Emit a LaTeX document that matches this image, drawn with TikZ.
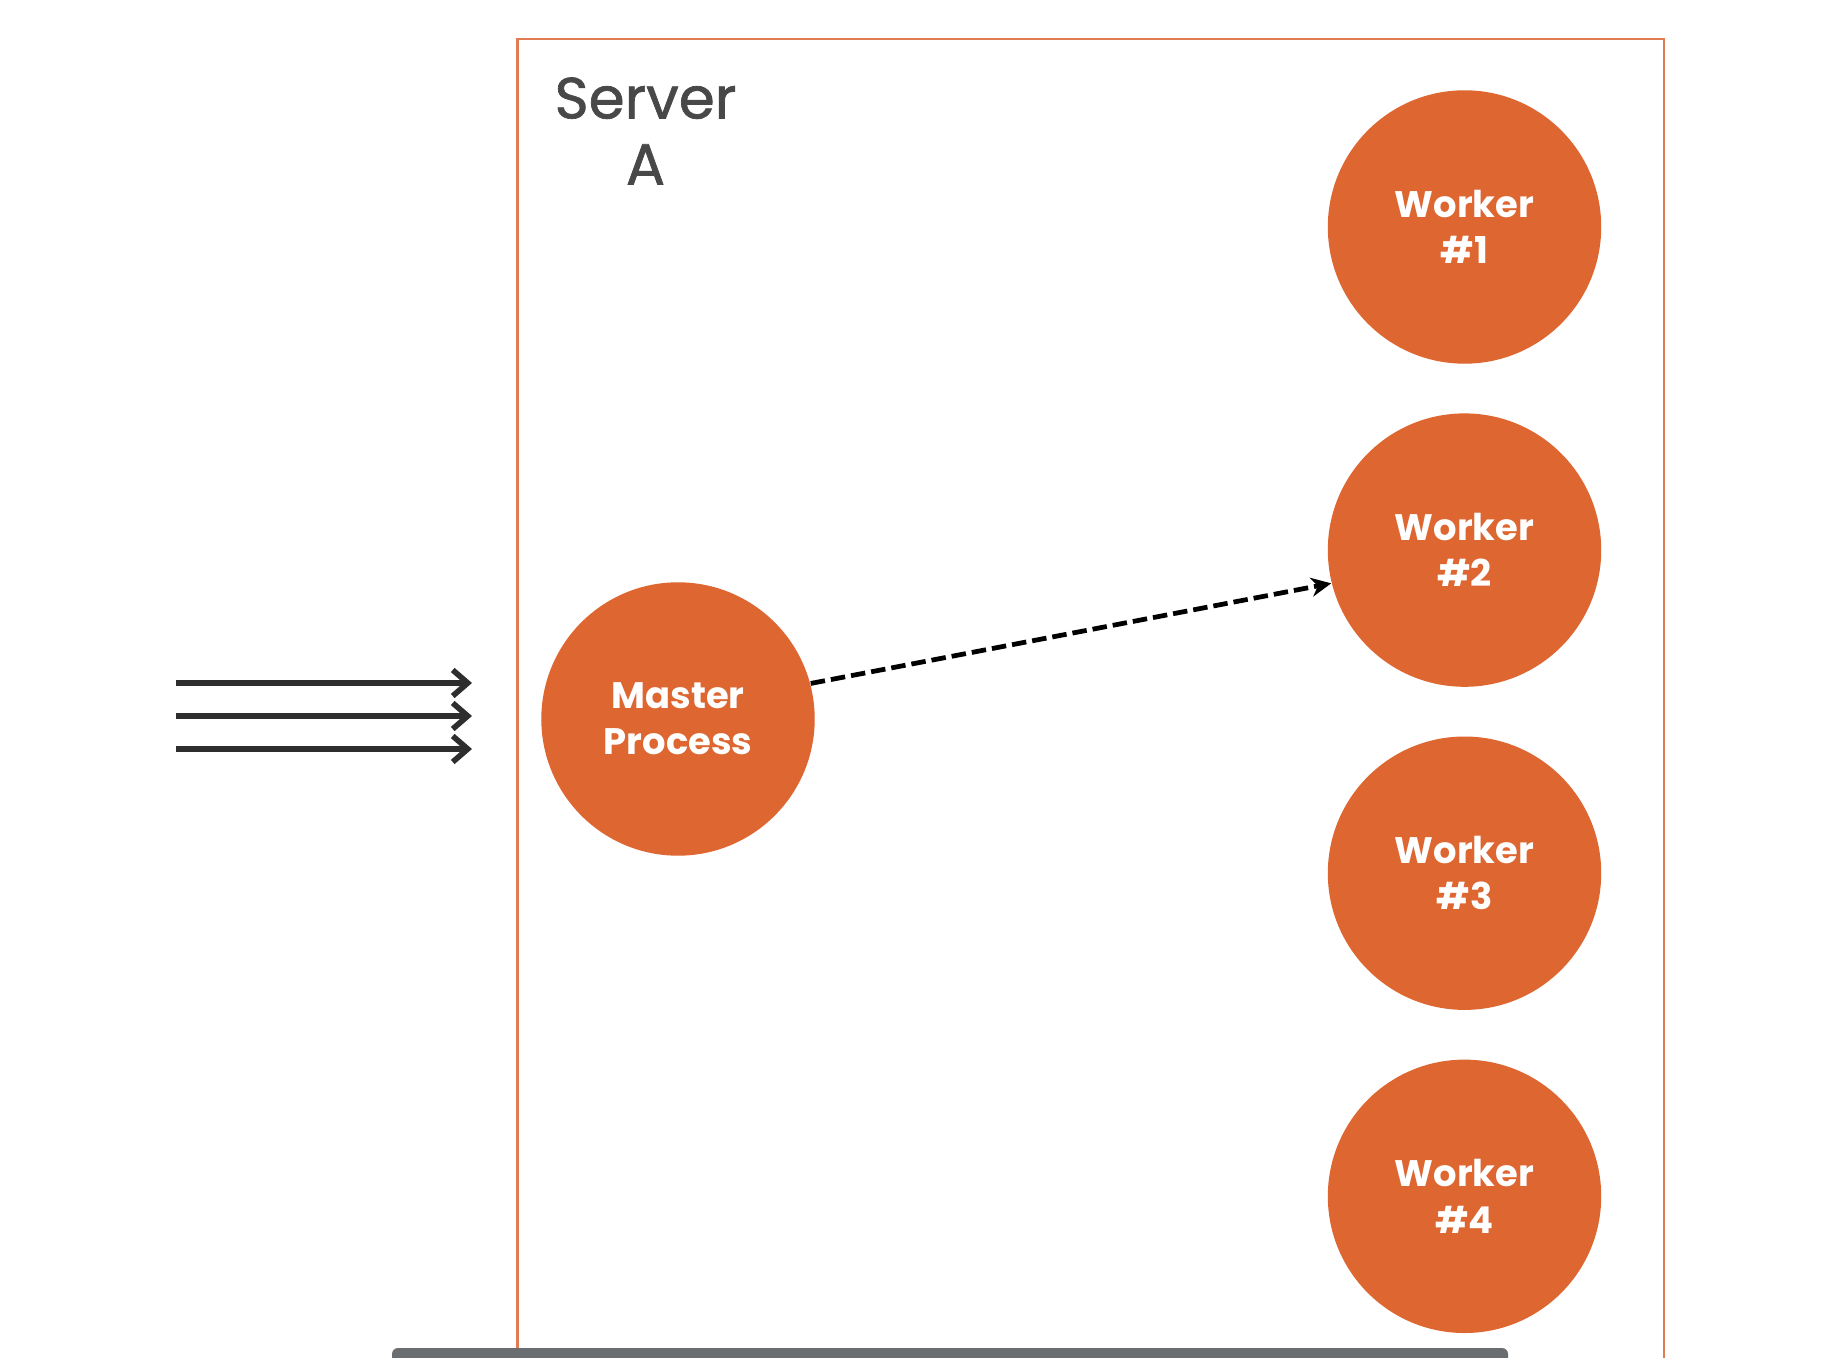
\documentclass[tikz,border=0pt]{standalone}
\usepackage{fontspec}
\setmainfont{Poppins}
\newfontfamily\serverfont{Poppins}[FakeBold=1.2]
\usetikzlibrary{positioning,arrows.meta}

\definecolor{procorange}{HTML}{DD6631}
\definecolor{boxorange}{HTML}{E07B52}
\definecolor{labelgray}{HTML}{484848}
\definecolor{bargray}{HTML}{6B6E71}
\definecolor{arrowgray}{HTML}{2E2E2E}

\tikzset{
  proc/.style={circle,fill=procorange,text=white,minimum size=2.734cm,inner sep=0pt,
    align=center,font=\bfseries\fontsize{10.5}{13.1}\selectfont},
  serverbox/.style={draw=boxorange,line width=0.65pt},
  request/.style={draw=arrowgray,line width=1.8pt,-{Straight Barb[length=1.5mm,width=2.6mm,line width=1.6pt]}},
  handoff/.style={draw=black,line width=1.35pt,dash pattern=on 1.45mm off 0.6mm,
    -{Stealth[length=2mm,width=1.9mm]}}
}

\begin{document}
\begin{tikzpicture}[node distance=0.483cm]
\useasboundingbox (0,0) rectangle (18.4,-13.58);

% server frame, open at the bottom
\draw[serverbox] (5.175,-13.7) |- (16.64,-0.387) -- (16.64,-13.7);
\node (servername) [align=center,text=labelgray,font=\serverfont\fontsize{16.5}{18.8}\selectfont] at (6.455,-1.31) {Server\\A};

% processes
\node (master) [proc] at (6.78,-7.19) {Master\\Process};
\node (worker1) [proc] at (14.645,-2.27) {Worker\\\#1};
\node (worker2) [proc,below=of worker1] {Worker\\\#2};
\node (worker3) [proc,below=of worker2] {Worker\\\#3};
\node (worker4) [proc,below=of worker3] {Worker\\\#4};

% incoming requests
\coordinate (req1) at (1.76,-6.83);
\coordinate (req2) at (1.76,-7.16);
\coordinate (req3) at (1.76,-7.49);
\coordinate (req1end) at (4.72,-6.83);
\coordinate (req2end) at (4.72,-7.16);
\coordinate (req3end) at (4.72,-7.49);
\draw[request] (req1) -- (req1end);
\draw[request] (req2) -- (req2end);
\draw[request] (req3) -- (req3end);

\draw[handoff] (master.15) -- (worker2.194);

% progress bar along the bottom edge
\fill[bargray] (3.92,-13.7) {[rounded corners=0.6mm] -- (3.92,-13.48) -- (15.08,-13.48)} -- (15.08,-13.7) -- cycle;

\end{tikzpicture}
\end{document}
